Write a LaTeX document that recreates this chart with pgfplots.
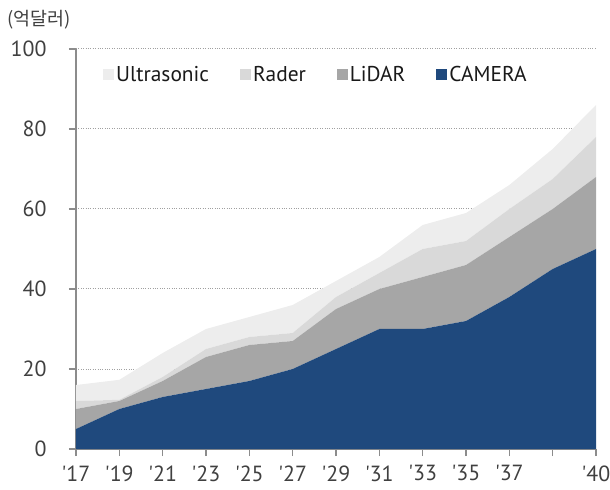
\documentclass[border=0pt]{standalone}
\usepackage{pgfplots}
\pgfplotsset{compat=1.18}
\usepackage{fontspec}
\setmainfont{PT Sans}[Ligatures=TeXOff]
\newfontfamily\cjk{Noto Sans CJK KR}
\definecolor{cam}{RGB}{31,73,125}
\definecolor{lid}{RGB}{166,166,166}
\definecolor{rad}{RGB}{217,217,217}
\definecolor{ult}{RGB}{237,237,237}
\definecolor{axgray}{RGB}{140,140,140}
\definecolor{gridgray}{RGB}{160,160,160}
\definecolor{txt}{RGB}{64,64,64}
\begin{document}
\begin{tikzpicture}
\useasboundingbox (-76bp,-41bp) rectangle (534bp,449bp);
\begin{axis}[
  scale only axis, width=520bp, height=400bp,
  xmin=0, xmax=12, ymin=0, ymax=100,
  axis x line*=bottom, axis y line*=left,
  axis line style={draw=axgray, line width=1.3bp, -},
  xtick={0,...,12},
  xticklabels={'17,'19,'21,'23,'25,'27,'29,'31,'33,'35,'37,,'40},
  ytick={0,20,...,100},
  tick align=outside, major tick length=7bp,
  tick style={draw=axgray, line width=1.3bp},
  ymajorgrids, grid style={dotted, draw=gridgray, line width=1bp},
  stack plots=y,
  ticklabel style={font=\fontsize{22}{26}\selectfont, text=txt},
  /pgf/number format/assume math mode=true,
  xticklabel style={yshift=-6bp},
  yticklabel style={xshift=-19bp},
  legend style={at={(0.046,0.935)}, anchor=west, draw=none, fill=none,
    font=\fontsize{21.5}{25}\selectfont, text=black!90,
    /tikz/every even column/.append style={column sep=29bp}},
  legend columns=4,
  reverse legend,
  legend image code/.code={\fill[#1] (0bp,-5.5bp) rectangle (11bp,5.5bp);},
]
\addplot[fill=cam, draw=none] coordinates {(0,5)(1,10)(2,13)(3,15)(4,17)(5,20)(6,25)(7,30)(8,30)(9,32)(10,38)(11,45)(12,50)} \closedcycle;
\addlegendentry{CAMERA}
\addplot[fill=lid, draw=none] coordinates {(0,5)(1,2)(2,4)(3,8)(4,9)(5,7)(6,10)(7,10)(8,13)(9,14)(10,15)(11,15)(12,18)} \closedcycle;
\addlegendentry{LiDAR}
\addplot[fill=rad, draw=none] coordinates {(0,2)(1,0.3)(2,1)(3,2)(4,2)(5,2)(6,3)(7,4)(8,7)(9,6)(10,7)(11,7.5)(12,10)} \closedcycle;
\addlegendentry{Rader}
\addplot[fill=ult, draw=none] coordinates {(0,4)(1,5)(2,6)(3,5)(4,5)(5,7)(6,4)(7,4)(8,6)(9,7)(10,6)(11,7.5)(12,8)} \closedcycle;
\addlegendentry{Ultrasonic}
\end{axis}
\node[anchor=west, font=\cjk\fontsize{18.5}{21}\selectfont, text=txt, inner sep=0pt] at (-69bp,429bp) {(억달러)};
\end{tikzpicture}
\end{document}
